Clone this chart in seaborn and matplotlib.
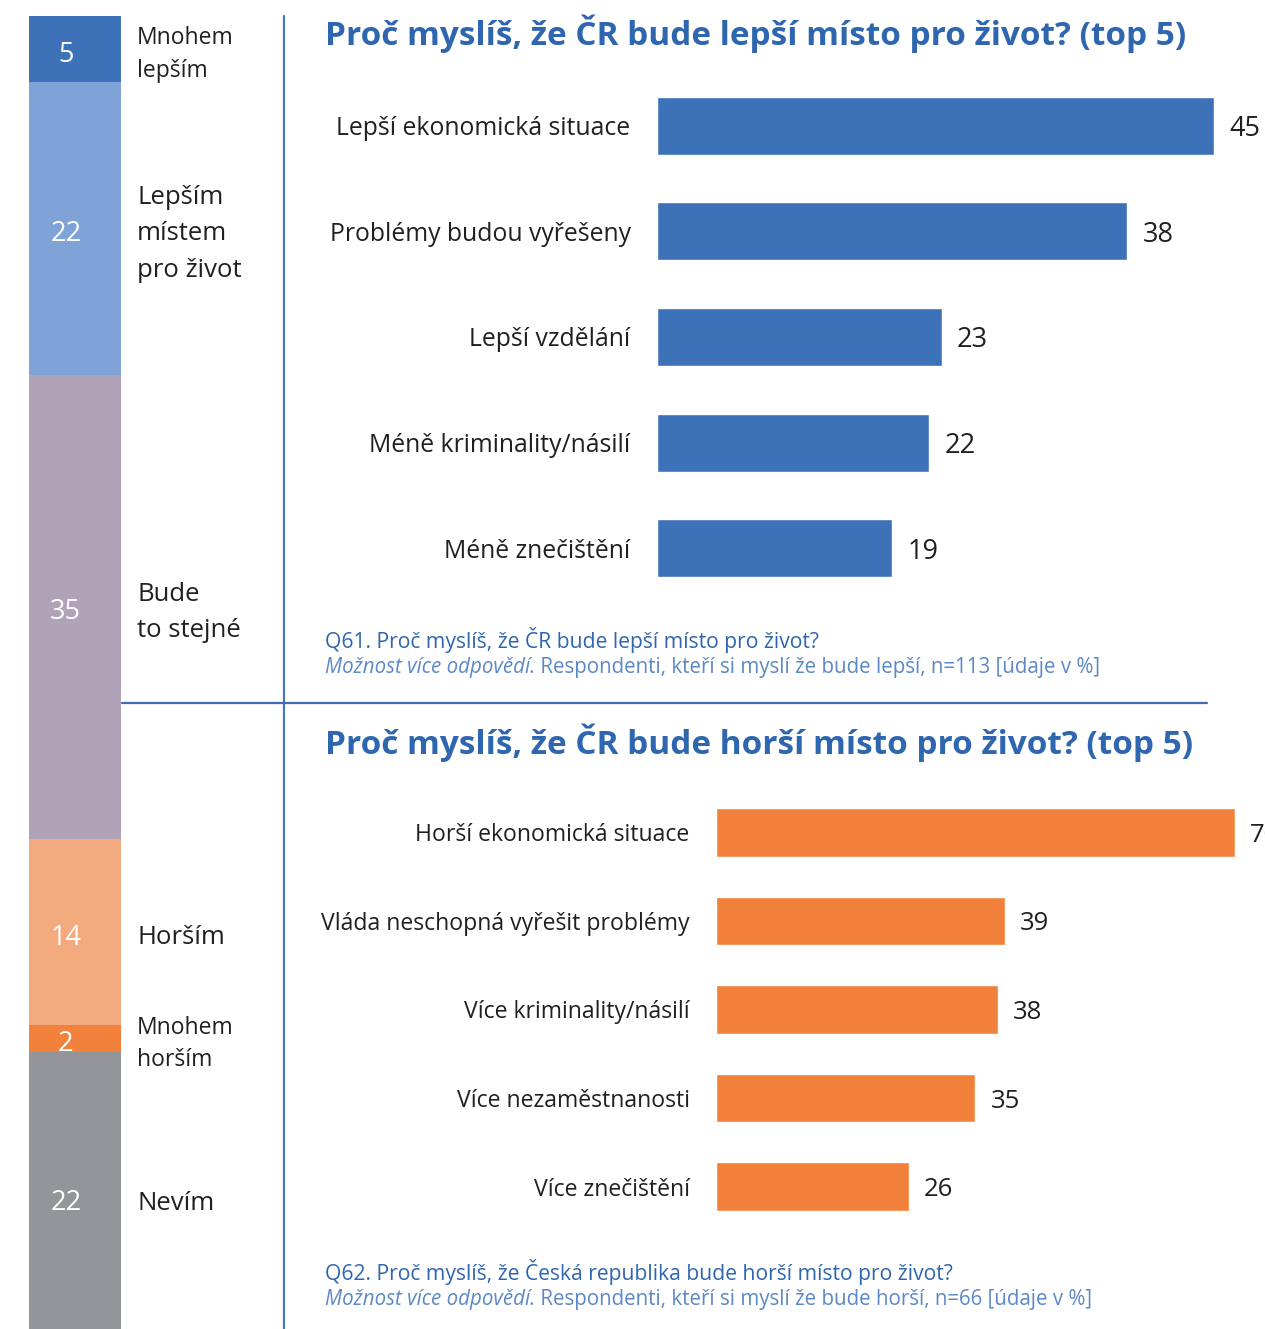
import matplotlib
matplotlib.use("Agg")
import matplotlib.pyplot as plt
import matplotlib.transforms as mtransforms
from matplotlib.lines import Line2D
import seaborn as sns
import pandas as pd
import numpy as np

# data
overall_labels = ["Mnohem\nlepším", "Lepším\nmístem\npro život", "Bude\nto stejné",
                  "Horším", "Mnohem\nhorším", "Nevím"]
overall_values = [5, 22, 35, 14, 2, 22]
overall_colors = ["#3D72B9", "#7FA3D6", "#B0A3B8", "#F4AA7F", "#F2823B", "#939598"]
overall_label_sizes = [16.5, 18.5, 18.5, 18.5, 16.5, 18.5]

better_cats = ["Lepší ekonomická situace", "Problémy budou vyřešeny", "Lepší vzdělání",
               "Méně kriminality/násilí", "Méně znečištění"]
better_vals = [45, 38, 23, 22, 19]

worse_cats = ["Horší ekonomická situace", "Vláda neschopná vyřešit problémy",
              "Více kriminality/násilí", "Více nezaměstnanosti", "Více znečištění"]
worse_vals = [70, 39, 38, 35, 26]

title_better = "Proč myslíš, že ČR bude lepší místo pro život? (top 5)"
title_worse = "Proč myslíš, že ČR bude horší místo pro život? (top 5)"
note_better = ("Q61. Proč myslíš, že ČR bude lepší místo pro život?",
               "Možnost více odpovědí.", " Respondenti, kteří si myslí že bude lepší, n=113 [údaje v %]")
note_worse = ("Q62. Proč myslíš, že Česká republika bude horší místo pro život?",
              "Možnost více odpovědí.", " Respondenti, kteří si myslí že bude horší, n=66 [údaje v %]")

BLUE = "#3D72B9"
ORANGE = "#F2823B"
TITLE_BLUE = "#2F66B0"
NOTE_BLUE = "#5B88C6"
TEXT = "#231F20"

sns.set_style("white")
plt.rcParams["font.family"] = ["Open Sans", "DejaVu Sans"]

W, H = 1265, 1329
fig = plt.figure(figsize=(W / 100, H / 100), dpi=100)


def px_axes(x0, y0, x1, y1):
    return fig.add_axes([x0 / W, 1 - y1 / H, (x1 - x0) / W, (y1 - y0) / H])


# stacked column on the left (runs past the bottom edge, as in the source)
ax_col = px_axes(29, 16, 121, 1344)
bottoms = np.concatenate([[0], np.cumsum(overall_values)[:-1]])
for val, bot, col in zip(overall_values, bottoms, overall_colors):
    ax_col.bar(0, val, bottom=bot, width=1.0, color=col, edgecolor="none")
    ax_col.text(-0.1, bot + val / 2 + 0.15, str(val), ha="center", va="center_baseline",
                color="white", fontsize=19.5)
ax_col.set_xlim(-0.5, 0.5)
ax_col.set_ylim(100, 0)
ax_col.axis("off")

trans = mtransforms.blended_transform_factory(fig.transFigure, ax_col.transData)
for lab, val, bot, fs in zip(overall_labels, overall_values, bottoms, overall_label_sizes):
    ax_col.text(137 / W, bot + val / 2 + 0.4, lab, transform=trans, ha="left", va="center",
                fontsize=fs, color=TEXT, linespacing=1.45 if fs < 17 else 1.6)

# divider lines
fig.add_artist(Line2D([284 / W, 284 / W], [0, 1 - 16 / H], transform=fig.transFigure,
                      color="#4A78B8", lw=1.6))
fig.add_artist(Line2D([122 / W, 1207 / W], [1 - 703 / H, 1 - 703 / H], transform=fig.transFigure,
                      color="#3F6DB0", lw=1.6))


def hbar_panel(ax, cats, vals, color, xmax, fs_cat, fs_val, pad):
    df = pd.DataFrame({"cat": cats, "val": vals})
    sns.barplot(data=df, x="val", y="cat", orient="h", color=color, width=0.55,
                saturation=1, ax=ax)
    ax.set_xlim(0, xmax)
    ax.set_ylim(4.5, -0.5)
    ax.set_xlabel("")
    ax.set_ylabel("")
    ax.set_xticks([])
    ax.tick_params(axis="y", length=0, pad=pad, labelsize=fs_cat, labelcolor=TEXT)
    sns.despine(ax=ax, left=True, bottom=True)
    for i, v in enumerate(vals):
        ax.annotate(str(v), (v, i), xytext=(11, 0), textcoords="offset points",
                    ha="left", va="center_baseline", fontsize=fs_val, color=TEXT,
                    annotation_clip=False)


ax_top = px_axes(657, 73, 1265, 601)
hbar_panel(ax_top, better_cats, better_vals, BLUE, 608 / 12.38, 17.8, 19.5, 19)

ax_bot = px_axes(716, 788, 1265, 1231)
hbar_panel(ax_bot, worse_cats, worse_vals, ORANGE, 549 / 7.41, 16.6, 18.5, 19)

# titles
fig.text(325 / W, 1 - 34 / H, title_better, ha="left", va="center",
         fontsize=24, fontweight="bold", color=TITLE_BLUE)
fig.text(325 / W, 1 - 743 / H, title_worse, ha="left", va="center",
         fontsize=24, fontweight="bold", color=TITLE_BLUE)


def note(y_px, lines):
    first, ital, rest = lines
    fig.text(325 / W, 1 - y_px / H, first, ha="left", va="center",
             fontsize=15.2, color=TITLE_BLUE, fontstretch="semi-condensed")
    t = fig.text(325 / W, 1 - (y_px + 27) / H, ital, ha="left", va="center",
                 fontsize=14.8, color=NOTE_BLUE, style="italic", fontstretch="semi-condensed")
    fig.canvas.draw()
    bb = t.get_window_extent()
    fig.text(bb.x1 / W, 1 - (y_px + 27) / H, rest, ha="left", va="center",
             fontsize=14.8, color=NOTE_BLUE, fontstretch="semi-condensed")


note(640, note_better)
note(1272, note_worse)

fig.savefig("out.png", dpi=100)
